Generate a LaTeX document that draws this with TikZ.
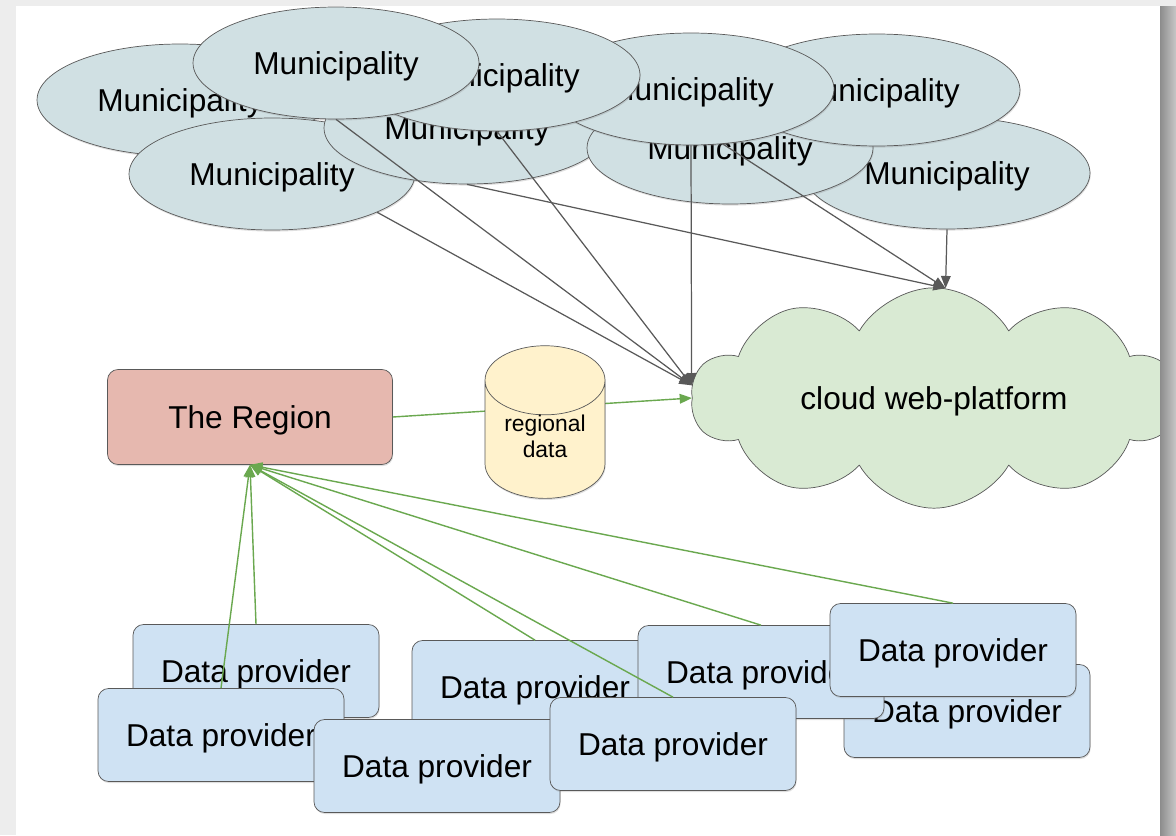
\documentclass[tikz,border=0pt]{standalone}
\usepackage{fontspec}
\setmainfont{Liberation Sans}
\usetikzlibrary{shapes.geometric,shapes.symbols,arrows.meta,shadows}
\definecolor{townfill}{HTML}{D0E0E3}
\definecolor{provfill}{HTML}{CFE2F3}
\definecolor{regfill}{HTML}{E6B8AF}
\definecolor{dbfill}{HTML}{FFF2CC}
\definecolor{webfill}{HTML}{D9EAD3}
\definecolor{edge}{HTML}{595959}
\definecolor{leaf}{HTML}{6AA84F}

\begin{document}
\begin{tikzpicture}[x=0.02cm,y=-0.02cm,>={Triangle[length=7pt,width=5.5pt]},line join=round,
	font=\fontsize{18}{20}\selectfont,
	soft/.style={drop shadow={shadow xshift=0.4pt,shadow yshift=-0.9pt,opacity=0.25}},
	town/.style={ellipse,draw=edge,fill=townfill,soft,minimum width=5.72cm,minimum height=2.24cm,inner sep=0pt,text depth=0pt},
	provider/.style={rectangle,rounded corners=6pt,draw=edge,fill=provfill,soft,minimum width=4.92cm,minimum height=1.86cm,text depth=0pt},
	region/.style={rectangle,rounded corners=6pt,draw=edge,fill=regfill,soft,minimum width=5.7cm,minimum height=1.9cm,text depth=0pt},
	store/.style={cylinder,shape border rotate=90,aspect=0.85,draw=edge,fill=dbfill,soft,inner sep=0pt,minimum width=2.4cm,align=center,text height=24.35pt,text depth=3.35pt,font=\fontsize{13}{15}\selectfont},
	web/.style={cloud,cloud puffs=10,cloud puff arc=120,aspect=2.5,draw=edge,fill=webfill,minimum width=9.7cm,minimum height=3.85cm,text depth=0pt},
	grayline/.style={draw=edge,line width=0.7pt},
	greenline/.style={draw=leaf,line width=0.8pt}]
	\useasboundingbox (0,0) rectangle (1176,835);
	\fill[black!7] (0,0) rectangle (1176,835);
	\fill[white] (16,6) rectangle (1160,835);
	
	\node[web] (cl) at (934,398) {cloud web-platform};
	\node[region] (reg) at (250,417) {The Region};
	\draw[->,greenline] (reg.east) -- (cl.west);
	\node[store] (db) at (545,439.5) {regional\\data};
	
	% municipalities, back to front
	\foreach \p/\x/\y in {1/180/100,2/272/174,3/467/128,4/947/173,5/730/148,6/877/90,7/691/89,8/497/75,9/336/63}
	\node[town] (m\p) at (\x,\y) {Municipality};
	\foreach \s in {m2.-20,m9.south,m8.south,m7.south}
	\draw[->,grayline] (\s) -- (cl.177);
	\foreach \s in {m3.south,m7.-60,m4.south}
	\draw[->,grayline] (\s) -- (cl.84);
	
	% data providers, back to front
	\foreach \p/\x/\y in {1/256/671,2/221/735,3/535/687,4/437/766,5/967/711,6/761/672,7/673/744,8/953/650}
	\node[provider] (d\p) at (\x,\y) {Data provider};
	\foreach \s in {d1,d2,d3,d6,d7,d8}
	\draw[->,greenline] (\s.north) -- (reg.south);
	
	\shade[left color=black!45,right color=black!22] (1160,6) rectangle (1176,835);
\end{tikzpicture}
\end{document}
